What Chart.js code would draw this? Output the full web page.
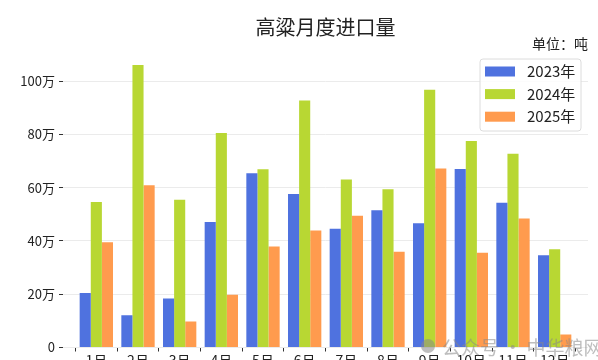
<!DOCTYPE html>
<html lang="zh">
<head>
    <meta charset="UTF-8">
    <title>高粱月度进口量</title>
    <script src="https://cdn.jsdelivr.net/npm/chart.js@4.4.0/dist/chart.umd.min.js"></script>
    <style>
        body {
            margin: 0;
            overflow: hidden;
            background: #fff;
        }
        .wrap {
            width: 598px;
            height: 380px;
        }
    </style>
</head>
<body>
    <div class="wrap"><canvas id="chart"></canvas></div>

    <script>
        // 单位：万吨
        const months = ['1月', '2月', '3月', '4月', '5月', '6月', '7月', '8月', '9月', '10月', '11月', '12月'];
        const imports2023 = [20.5, 12.1, 18.4, 47.1, 65.4, 57.6, 44.6, 51.5, 46.6, 67.0, 54.3, 34.6];
        const imports2024 = [54.6, 106.0, 55.5, 80.5, 66.9, 92.7, 63.1, 59.4, 96.8, 77.5, 72.7, 36.9];
        const imports2025 = [39.5, 60.9, 9.8, 19.8, 37.9, 43.9, 49.5, 35.9, 67.2, 35.6, 48.4, 4.9];
        const yTicks = [0, 20, 40, 60, 80, 100];

        const FONT = "'Noto Sans CJK SC', 'Noto Sans', sans-serif";
        const colors = ['#4F72DF', '#B8D733', '#FF9B4E'];

        function toPoints(arr) {
            return arr.map((v, i) => ({ x: i, y: v }));
        }

        // title, unit note, legend box and watermark
        const overlay = {
            id: 'overlay',
            afterDraw(chart) {
                const ctx = chart.ctx;
                const area = chart.chartArea;
                ctx.save();
                ctx.fillStyle = '#222';
                ctx.textBaseline = 'middle';
                ctx.textAlign = 'center';
                ctx.font = '20px ' + FONT;
                ctx.fillText('高粱月度进口量', (area.left + area.right) / 2, 27);

                ctx.textAlign = 'right';
                ctx.font = '14px ' + FONT;
                ctx.fillText('单位：吨', area.right, 44);

                // legend
                const lx = 480, ly = 59, lw = 101, lh = 72;
                ctx.beginPath();
                ctx.roundRect(lx, ly, lw, lh, 3);
                ctx.fillStyle = 'rgba(255,255,255,0.85)';
                ctx.fill();
                ctx.strokeStyle = '#dcdcdc';
                ctx.lineWidth = 1;
                ctx.stroke();
                ctx.textAlign = 'left';
                ctx.font = '15px ' + FONT;
                chart.data.datasets.forEach((ds, i) => {
                    const cy = 71.5 + i * 22.6;
                    ctx.fillStyle = ds.backgroundColor;
                    ctx.fillRect(485, cy - 5, 30, 10);
                    ctx.fillStyle = '#222';
                    ctx.fillText(ds.label, 527, cy);
                });

                // watermark
                ctx.globalAlpha = 0.55;
                ctx.fillStyle = '#888';
                ctx.beginPath();
                ctx.arc(428, 346, 7, 0, Math.PI * 2);
                ctx.fill();
                ctx.font = '19px ' + FONT;
                ctx.fillText('公众号 · 中华粮网', 442, 348);
                ctx.restore();
            }
        };

        new Chart(document.getElementById('chart'), {
            type: 'bar',
            data: {
                datasets: [
                    { label: '2023年', data: toPoints(imports2023), backgroundColor: colors[0] },
                    { label: '2024年', data: toPoints(imports2024), backgroundColor: colors[1] },
                    { label: '2025年', data: toPoints(imports2025), backgroundColor: colors[2] }
                ]
            },
            options: {
                responsive: true,
                maintainAspectRatio: false,
                animation: false,
                layout: { padding: { top: 51, right: 10, left: 0, bottom: 0 } },
                datasets: {
                    bar: {
                        categoryPercentage: 0.8,
                        barPercentage: 1.0,
                        borderWidth: 0
                    }
                },
                plugins: {
                    legend: { display: false },
                    tooltip: { enabled: false }
                },
                scales: {
                    x: {
                        type: 'linear',
                        min: -0.8,
                        max: 11.8,
                        offset: false,
                        afterBuildTicks: axis => { axis.ticks = months.map((m, i) => ({ value: i })); },
                        afterFit: axis => { axis.height = 32.5; },
                        grid: { drawOnChartArea: false, drawTicks: true, tickLength: 4, tickColor: '#333' },
                        border: { display: false },
                        ticks: {
                            callback: v => months[v],
                            color: '#222',
                            font: { family: FONT, size: 14 },
                            padding: 1,
                            maxRotation: 0,
                            autoSkip: false
                        }
                    },
                    y: {
                        min: 0,
                        max: 111.3,
                        afterBuildTicks: axis => { axis.ticks = yTicks.map(v => ({ value: v })); },
                        afterFit: axis => { axis.width = 63; },
                        grid: { color: '#ebebeb', drawTicks: true, tickLength: 4, tickColor: '#333' },
                        border: { display: false },
                        ticks: {
                            callback: v => v === 0 ? '0' : v + '万',
                            color: '#222',
                            font: { family: FONT, size: 13 },
                            padding: 4
                        }
                    }
                }
            },
            plugins: [overlay]
        });
    </script>
</body>
</html>
